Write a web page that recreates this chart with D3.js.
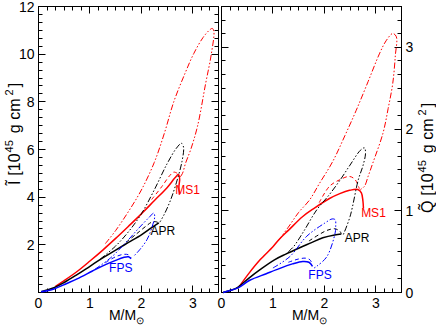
<!DOCTYPE html>
<html>
<head>
<meta charset="utf-8">
<script src="https://cdn.jsdelivr.net/npm/d3@7"></script>
<style>
body { margin: 0; background: #fff; }
svg { font-family: "Liberation Sans", Arial, sans-serif; }
.frame { fill: none; stroke: #000; stroke-width: 1; }
.tick { stroke: #000; stroke-width: 1; }
.curve { fill: none; }
</style>
</head>
<body>
<svg id="chart" width="436" height="328"></svg>
<script>
// tick labels
var massTicks = [0, 1, 2, 3];
var inertiaTicks = [2, 4, 6, 8, 10, 12];
var quadTicks = [0, 1, 2, 3];

// ---- moment of inertia, [M/Msun, I] ----
var ms1_I_solid = [[0.33,0.26],[0.5,0.5],[0.75,0.88],[1.0,1.32],[1.25,1.78],[1.5,2.27],[1.75,2.78],[2.0,3.3],[2.25,3.85],[2.5,4.4],[2.65,4.8],[2.72,4.95],[2.745,4.75],[2.73,4.45],[2.74,4.1]];
var ms1_I_dash = [[2.2,3.9],[2.4,4.45],[2.55,4.9],[2.63,5.05],[2.7,5.0],[2.73,4.95]];
var ms1_I_dashdot = [[1.3,2.05],[1.5,2.6],[1.75,3.4],[2.0,4.3],[2.25,5.45],[2.45,6.7],[2.63,8.0],[2.85,9.2],[3.02,10.03],[3.2,10.7],[3.32,11.0],[3.38,11.08],[3.41,10.95],[3.36,10.0],[3.25,8.77],[3.09,6.96],[2.96,6.0],[2.86,5.43],[2.8,5.0],[2.74,4.8]];

var apr_I_solid = [[0.05,0.03],[0.3,0.2],[0.5,0.42],[0.75,0.75],[1.0,1.1],[1.25,1.45],[1.5,1.78],[1.75,2.1],[2.0,2.42],[2.2,2.72],[2.34,2.92]];
var apr_I_dash = [[1.7,2.1],[1.9,2.45],[2.1,2.8],[2.2,2.95],[2.28,2.97],[2.34,2.92]];
var apr_I_dashdot = [[1.2,1.4],[1.5,1.95],[1.75,2.55],[2.0,3.3],[2.25,4.3],[2.5,5.4],[2.68,6.05],[2.78,6.26],[2.82,6.1],[2.79,5.5],[2.68,4.6],[2.57,3.89],[2.45,3.3],[2.36,2.95]];

var fps_I_solid = [[0.05,0.03],[0.3,0.15],[0.55,0.38],[0.75,0.57],[1.04,0.89],[1.25,1.12],[1.5,1.35],[1.65,1.47],[1.75,1.5],[1.8,1.42]];
var fps_I_dash = [[1.3,1.25],[1.5,1.5],[1.65,1.6],[1.75,1.58],[1.8,1.45]];
var fps_I_dashdot = [[1.1,0.98],[1.4,1.45],[1.7,2.1],[1.95,2.7],[2.15,3.15],[2.24,3.33],[2.26,3.2],[2.2,2.7],[2.11,2.22],[1.97,1.8],[1.85,1.52]];

// ---- quadrupole moment, [M/Msun, Q] ----
var ms1_Q_solid = [[0.33,0.06],[0.54,0.24],[0.75,0.4],[1.0,0.56],[1.12,0.65],[1.3,0.76],[1.58,0.93],[1.8,1.03],[2.1,1.15],[2.3,1.21],[2.49,1.25],[2.65,1.26],[2.72,1.22],[2.75,1.12],[2.76,1.03]];
var ms1_Q_dash = [[1.9,1.1],[2.1,1.3],[2.3,1.38],[2.49,1.42],[2.6,1.38],[2.68,1.27]];
var ms1_Q_dashdot = [[1.1,0.63],[1.3,0.8],[1.5,0.98],[1.71,1.13],[1.9,1.33],[2.16,1.6],[2.4,1.92],[2.62,2.23],[2.85,2.58],[3.07,2.92],[3.2,3.08],[3.33,3.17],[3.4,3.13],[3.38,2.9],[3.33,2.56],[3.24,2.25],[3.14,1.95],[2.94,1.58],[2.85,1.42],[2.78,1.3],[2.7,1.26]];

var apr_Q_solid = [[0.03,0.0],[0.2,0.03],[0.33,0.07],[0.54,0.18],[0.75,0.28],[1.03,0.4],[1.25,0.47],[1.51,0.545],[1.75,0.61],[1.97,0.67],[2.2,0.705],[2.33,0.715]];
var apr_Q_dash = [[1.7,0.63],[1.9,0.71],[2.05,0.76],[2.2,0.78],[2.3,0.75],[2.33,0.72]];
var apr_Q_dashdot = [[1.3,0.5],[1.4,0.56],[1.6,0.75],[1.85,1.01],[2.1,1.2],[2.31,1.38],[2.5,1.56],[2.7,1.74],[2.78,1.77],[2.8,1.7],[2.75,1.55],[2.66,1.38],[2.5,0.93],[2.37,0.71]];

var fps_Q_solid = [[0.03,0.0],[0.2,0.03],[0.33,0.06],[0.55,0.15],[0.87,0.23],[1.07,0.28],[1.38,0.35],[1.58,0.38],[1.7,0.37],[1.77,0.32]];
var fps_Q_dash = [[1.3,0.37],[1.5,0.41],[1.64,0.42],[1.72,0.4],[1.77,0.34]];
var fps_Q_dashdot = [[1.0,0.3],[1.33,0.44],[1.66,0.69],[2.01,0.85],[2.15,0.9],[2.21,0.89],[2.22,0.8],[2.21,0.73],[2.05,0.44],[1.85,0.32],[1.8,0.3]];

var eosNames = ["MS1", "APR", "FPS"];
var eosColors = ["#ff0000", "#000000", "#0000ff"];

var svg = d3.select("#chart");
var plotTop = 6.5, plotBottom = 292.5;

// one panel: frame, ticks, curves
function drawPanel(x0, x1, yMax, yTicks, yMinor, labelSide, curves, labels) {
    var x = d3.scaleLinear().domain([0, 3.5]).range([x0, x1]);
    var y = d3.scaleLinear().domain([0, yMax]).range([plotBottom, plotTop]);
    var g = svg.append("g");

    // x ticks (6 minor steps per unit), bottom and top, pointing inside
    d3.range(0, 22).forEach(function(i) {
        var v = i / 6;
        var len = (i % 6 == 0) ? 7 : 4;
        var px = Math.round(x(v) - 0.5) + 0.5;
        g.append("line").attr("class", "tick").attr("x1", px).attr("x2", px).attr("y1", plotBottom).attr("y2", plotBottom - len);
        g.append("line").attr("class", "tick").attr("x1", px).attr("x2", px).attr("y1", plotTop).attr("y2", plotTop + len);
    });

    // y ticks, both sides
    var nY = Math.round(yMax / yMinor);
    var perMajor = Math.round((yTicks[1] - yTicks[0]) / yMinor);
    d3.range(0, nY + 1).forEach(function(i) {
        var v = i * yMinor;
        var len = (i % perMajor == 0) ? 7 : 4;
        var py = Math.round(y(v) - 0.5) + 0.5;
        g.append("line").attr("class", "tick").attr("x1", x0).attr("x2", x0 + len).attr("y1", py).attr("y2", py);
        g.append("line").attr("class", "tick").attr("x1", x1).attr("x2", x1 - len).attr("y1", py).attr("y2", py);
    });

    g.append("rect").attr("class", "frame")
        .attr("x", x0).attr("y", plotTop).attr("width", x1 - x0).attr("height", plotBottom - plotTop);

    // tick labels
    g.selectAll("text.xl").data(massTicks).enter().append("text")
        .attr("x", function(d) { return x(d); })
        .attr("y", plotBottom + 15)
        .attr("text-anchor", "middle")
        .style("font-size", "14px")
        .text(function(d) { return d; });

    g.selectAll("text.yl").data(yTicks).enter().append("text")
        .attr("x", labelSide == "left" ? x0 - 4 : x1 + 4)
        .attr("y", function(d) { return y(d) + 5; })
        .attr("text-anchor", labelSide == "left" ? "end" : "start")
        .style("font-size", "14px")
        .text(function(d) { return d; });

    // x title
    var xt = g.append("text")
        .attr("x", (x0 + x1) / 2 - 2)
        .attr("y", 320)
        .attr("text-anchor", "middle")
        .style("font-size", "14px");
    xt.append("tspan").text("M/M");
    xt.append("tspan").attr("dy", 4).style("font-size", "10px").text("\u2299");

    // curves
    var line = d3.line()
        .x(function(d) { return x(d[0]); })
        .y(function(d) { return y(d[1]); })
        .curve(d3.curveCatmullRom.alpha(0.5));

    curves.forEach(function(c, i) {
        var col = eosColors[i];
        g.append("path").attr("class", "curve").attr("d", line(c[2]))
            .attr("stroke", col).attr("stroke-width", 1).attr("stroke-dasharray", "6,2,1.5,2,1.5,2");
        g.append("path").attr("class", "curve").attr("d", line(c[1]))
            .attr("stroke", col).attr("stroke-width", 1).attr("stroke-dasharray", "4,3");
        g.append("path").attr("class", "curve").attr("d", line(c[0]))
            .attr("stroke", col).attr("stroke-width", 1.5);
    });

    // EOS labels
    labels.forEach(function(p, i) {
        g.append("text")
            .attr("x", x(p[0])).attr("y", y(p[1]))
            .attr("text-anchor", "middle")
            .style("font-size", "12px")
            .attr("fill", eosColors[i])
            .text(eosNames[i]);
    });
    return g;
}

drawPanel(38.5, 218.5, 12, inertiaTicks, 1 / 3, "left",
    [[ms1_I_solid, ms1_I_dash, ms1_I_dashdot],
     [apr_I_solid, apr_I_dash, apr_I_dashdot],
     [fps_I_solid, fps_I_dash, fps_I_dashdot]],
    [[2.9, 4.13], [2.42, 2.41], [1.6, 0.86]]);

drawPanel(221.5, 401.5, 3.5, quadTicks, 1 / 6, "right",
    [[ms1_Q_solid, ms1_Q_dash, ms1_Q_dashdot],
     [apr_Q_solid, apr_Q_dash, apr_Q_dashdot],
     [fps_Q_solid, fps_Q_dash, fps_Q_dashdot]],
    [[2.955, 0.92], [2.635, 0.62], [1.915, 0.17]]);

// y titles, rotated; superscripts raised (shift left on screen)
function yTitle(tx, ty, head) {
    var t = svg.append("text")
        .attr("transform", "translate(" + tx + "," + ty + ") rotate(-90)")
        .attr("text-anchor", "middle")
        .style("font-size", "16px");
    t.append("tspan").text(head);
    t.append("tspan").attr("dx", 5).text("[10");
    t.append("tspan").attr("dy", -7).attr("dx", 1).style("font-size", "11px").text("45");
    t.append("tspan").attr("dy", 7).attr("dx", 7).text("g cm");
    t.append("tspan").attr("dy", -7).attr("dx", 3).style("font-size", "11px").text("2");
    t.append("tspan").attr("dy", 7).attr("dx", 2).text("]");
}
yTitle(20, 134, "\u0128");
yTitle(433, 158, "Q\u0303");
</script>
</body>
</html>
